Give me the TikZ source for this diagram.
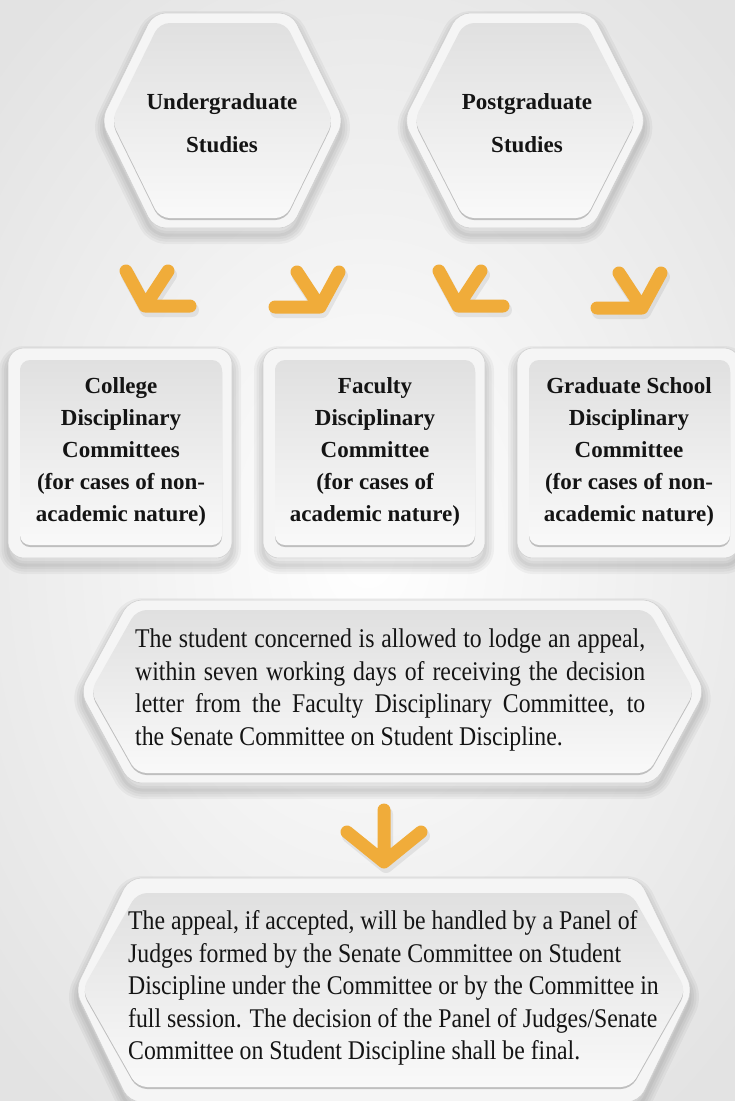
\documentclass[tikz,border=0pt]{standalone}
\usepackage{fontspec}
\setmainfont{Liberation Serif}
\newfontfamily\bodyfont[FakeStretch=0.88]{Liberation Serif}
\definecolor{org}{RGB}{240,172,58}
\definecolor{ringc}{RGB}{245,245,245}
\definecolor{intop}{RGB}{224,224,224}
\definecolor{inbot}{RGB}{249,249,249}
\definecolor{txt}{RGB}{20,20,20}

% cx cy hw ht hh  ihw iht ihh
\newcommand\HexShape[8]{%
 \foreach \w in {18,13,8,3}{%
  \draw[black,opacity=0.04,line width=\w,line join=round,rounded corners=12]
   (#1-#3,#2+7) -- (#1-#4,#2-#5+7) -- (#1+#4,#2-#5+7) -- (#1+#3,#2+7) -- (#1+#4,#2+#5+7) -- (#1-#4,#2+#5+7) -- cycle;}
 \fill[ringc,draw=black!18,line width=0.6,rounded corners=12]
   (#1-#3,#2) -- (#1-#4,#2-#5) -- (#1+#4,#2-#5) -- (#1+#3,#2) -- (#1+#4,#2+#5) -- (#1-#4,#2+#5) -- cycle;
 \fill[black!25,rounded corners=10]
   (#1-#6,#2+2) -- (#1-#7,#2-#8+2) -- (#1+#7,#2-#8+2) -- (#1+#6,#2+2) -- (#1+#7,#2+#8+2) -- (#1-#7,#2+#8+2) -- cycle;
 \shade[top color=intop,bottom color=inbot,rounded corners=10]
   (#1-#6,#2) -- (#1-#7,#2-#8) -- (#1+#7,#2-#8) -- (#1+#6,#2) -- (#1+#7,#2+#8) -- (#1-#7,#2+#8) -- cycle;
}
% x1 y1 x2 y2
\newcommand\BoxShape[4]{%
 \foreach \w in {18,13,8,3}{%
  \draw[black,opacity=0.04,line width=\w,rounded corners=16] (#1,#2+7) rectangle (#3,#4+7);}
 \fill[ringc,draw=black!18,line width=0.6,rounded corners=16] (#1,#2) rectangle (#3,#4);
 \fill[black!25,rounded corners=10] (#1+12,#2+14) rectangle (#3-10,#4-11);
 \shade[top color=intop,bottom color=inbot,rounded corners=10] (#1+12,#2+12) rectangle (#3-10,#4-13);
}
% chevron, bar to the left, pointing down-right; tip (#1,#2)
\newcommand\ChevR[2]{%
 \draw[chevsh] (#1-43,#2+4) -- (#1+2,#2+4) -- (#1+21,#2-31) (#1-21,#2-31) -- (#1+2,#2+4);
 \draw[chev] (#1-45,#2) -- (#1,#2) -- (#1+19,#2-35) (#1-23,#2-35) -- (#1,#2);}
% chevron, bar to the right, pointing down-left
\newcommand\ChevL[2]{%
 \draw[chevsh] (#1+47,#2+4) -- (#1+2,#2+4) -- (#1-17,#2-31) (#1+25,#2-31) -- (#1+2,#2+4);
 \draw[chev] (#1+45,#2) -- (#1,#2) -- (#1-19,#2-35) (#1+23,#2-35) -- (#1,#2);}

\begin{document}
\begin{tikzpicture}[x=1pt,y=-1pt,
  chev/.style={draw=org,line width=13,line cap=round,line join=round},
  chevsh/.style={draw=black!60,opacity=0.12,line width=14,line cap=round,line join=round},
  hexlbl/.style={font=\fontsize{23}{43}\selectfont\bfseries,align=center,text=txt,inner sep=0},
  boxlbl/.style={font=\fontsize{23}{32}\selectfont\bfseries,align=center,text=txt,inner sep=0},
  body/.style={font=\bodyfont\fontsize{27}{32.5}\selectfont,align=left,text=txt,inner sep=0,anchor=west}]
\useasboundingbox (0,0) rectangle (735,1101);
\shade[inner color=white,outer color=black!11] (-150,-150) rectangle (885,1251);

% top hexagons
\HexShape{222.5}{120.5}{121.5}{69}{107.5}{111}{63}{97.5}
\HexShape{525}{120.5}{121.5}{67}{107.5}{111}{61}{97.5}
\node[hexlbl] (ug) at (222,123) {Undergraduate\\Studies};
\node[hexlbl] (pg) at (527,123) {Postgraduate\\Studies};

% chevrons
\ChevL{145}{306}
\ChevR{320}{307}
\ChevL{458}{306}
\ChevR{642}{308}

% committee boxes
\BoxShape{8}{348}{232}{558}
\BoxShape{263}{348}{485}{558}
\BoxShape{517}{348}{740}{558}
\node[boxlbl] (col) at (121,452) {College\\Disciplinary\\Committees\\(for cases of non-\\academic nature)};
\node[boxlbl] (fac) at (375,452) {Faculty\\Disciplinary\\Committee\\(for cases of\\academic nature)};
\node[boxlbl] (grad) at (629,452) {Graduate School\\Disciplinary\\Committee\\(for cases of non-\\academic nature)};

% appeal
\HexShape{392.5}{691.5}{312.5}{263}{91.5}{302}{256}{81.5}
\node[body] (app) at (135,690) {\makebox[510pt][s]{The student concerned is allowed to lodge an appeal,}\\
\makebox[510pt][s]{within seven working days of receiving the decision}\\
\makebox[510pt][s]{letter from the Faculty Disciplinary Committee, to}\\
the Senate Committee on Student Discipline.};

% down arrow
\draw[chevsh] (386,814) -- (386,866) (349,836) -- (386,866) -- (423,836);
\draw[chev] (384,810) -- (384,862) (347,832) -- (384,862) -- (421,832);

% final
\HexShape{384}{990}{309}{255}{112}{302}{247}{97}
\node[body] (fin) at (128,988) {The appeal, if accepted, will be handled by a Panel of\\
Judges formed by the Senate Committee on Student\\
Discipline under the Committee or by the Committee in\\
full session. The decision of the Panel of Judges/Senate\\
Committee on Student Discipline shall be final.};
\end{tikzpicture}
\end{document}
